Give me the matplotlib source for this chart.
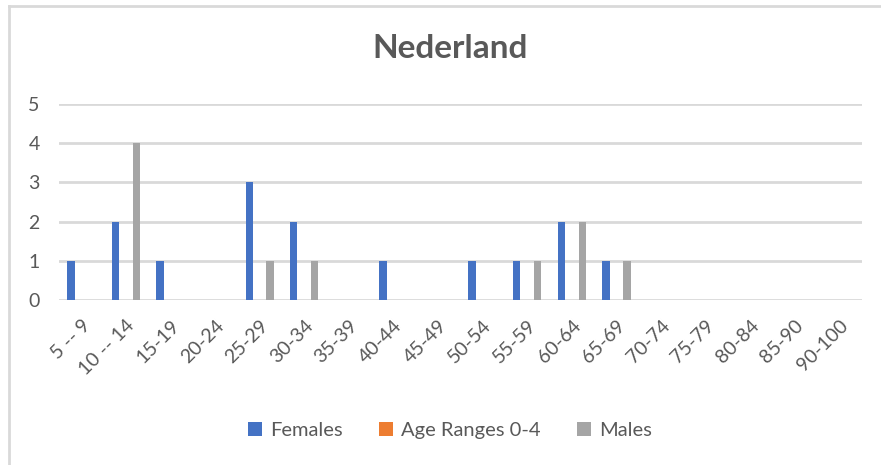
import numpy as np
import matplotlib
matplotlib.use('Agg')
import matplotlib.pyplot as plt
from matplotlib.lines import Line2D

plt.rcParams['font.family'] = ['Lato', 'DejaVu Sans']

age_ranges = ['5 -- 9', '10 -- 14', '15-19', '20-24', '25-29', '30-34', '35-39',
              '40-44', '45-49', '50-54', '55-59', '60-64', '65-69', '70-74',
              '75-79', '80-84', '85-90', '90-100']
females = [1, 2, 1, 0, 3, 2, 0, 1, 0, 1, 1, 2, 1, 0, 0, 0, 0, 0]
age_0_4 = [0] * 18
males = [0, 4, 0, 0, 1, 1, 0, 0, 0, 0, 1, 2, 1, 0, 0, 0, 0, 0]

txt = '#595959'
grid = '#d9d9d9'

fig = plt.figure(figsize=(8.81, 4.65), dpi=100)
ax = fig.add_axes([0.067, 0.355, 0.911, 0.421])

x = np.arange(len(age_ranges))
w = 0.165
off = 0.235
ax.bar(x - off, females, w, color='#4472C4', label='Females', zorder=3)
ax.bar(x, age_0_4, w, color='#ED7D31', label='Age Ranges 0-4', zorder=3)
ax.bar(x + off, males, w, color='#A5A5A5', label='Males', zorder=3)

ax.set_xlim(-0.5, len(age_ranges) - 0.5)
ax.set_ylim(0, 5)
ax.set_yticks(range(6))
ax.yaxis.grid(True, color=grid, lw=2, zorder=0)
ax.set_xticks(x)
ax.set_xticklabels(age_ranges, rotation=45, ha='right', rotation_mode='anchor')
ax.tick_params(length=0, labelsize=14, colors=txt)
ax.tick_params(axis='x', pad=12)
ax.tick_params(axis='y', pad=14)
for s in ax.spines.values():
    s.set_visible(False)

fig.text(0.511, 0.895, 'Nederland', ha='center', va='center', fontsize=24,
         fontweight='bold', color=txt)

leg = fig.legend(loc='center', bbox_to_anchor=(0.511, 0.075), ncol=3, frameon=False,
                 fontsize=14.5, handlelength=0.7, handleheight=0.7, columnspacing=1.8,
                 handletextpad=0.4)
for t in leg.get_texts():
    t.set_color(txt)

# chart frame (left and top edges visible)
fig.add_artist(Line2D([9/881, 9/881], [0, 1 - 6/465], color=grid, lw=2))
fig.add_artist(Line2D([9/881, 1], [1 - 6/465, 1 - 6/465], color=grid, lw=2))

fig.savefig('out.png', dpi=100)
